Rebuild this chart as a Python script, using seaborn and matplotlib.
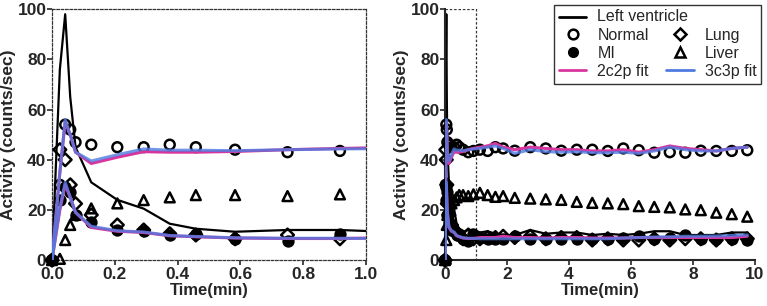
import matplotlib
matplotlib.use("Agg")
import matplotlib.pyplot as plt
from matplotlib.lines import Line2D
from matplotlib.patches import Rectangle
import pandas as pd
import seaborn as sns

# frame mid-times (min)
time_min = [0, 0.025, 0.042, 0.058, 0.075, 0.125, 0.208, 0.292, 0.375, 0.458, 0.583, 0.75, 0.917,
            1.125, 1.375, 1.625, 1.875, 2.25, 2.75, 3.25, 3.75, 4.25, 4.75, 5.25, 5.75, 6.25,
            6.75, 7.25, 7.75, 8.25, 8.75, 9.25, 9.75]

left_ventricle = [0, 76, 98, 65, 45, 31, 24, 20.5, 14.5, 12.5, 11.3, 12, 12, 11, 11.5, 10.5, 10,
                  10, 12, 10.5, 11, 11, 10, 10.5, 10, 10.5, 11.5, 11.5, 10, 10, 10, 11, 11]
normal = [0, 30, 54, 52, 47, 46, 45, 45, 46, 45, 44, 43, 43.5, 44, 43.5, 45, 44.5, 43.6, 45, 44.5,
          43.6, 44, 44, 43.5, 44.5, 43.8, 42.8, 43, 42.8, 43.6, 43.5, 43.5, 43.8]
mi = [0, 24, 29, 27, 18, 15, 12, 11.5, 10, 10.5, 8.5, 7.5, 10.5, 9, 8.5, 8.5, 8.5, 9.5, 8.5, 8.5,
      8.5, 8.5, 8.5, 8.5, 9, 9.5, 8.5, 9, 10, 8.5, 8.5, 8.5, 8]
lung = [0, 44, 40, 30, 22.5, 18, 14, 12, 10.5, 10, 8.5, 10, 8.5, 8.5, 9, 9, 9.5, 9, 9.5, 8.5, 9, 9,
        8, 8.5, 8, 8, 8.5, 8, 8.5, 8.5, 8, 8.5, 8.5]
liver = [0, 0.5, 8, 14, 18, 20.6, 22.6, 23.9, 25, 25.9, 25.9, 25.5, 26.2, 26.8, 25.9, 25.2, 25.5,
         24.8, 24.5, 24.2, 24, 23.2, 22.8, 22.6, 22.3, 21.5, 21.2, 21, 20.2, 19.9, 18.9, 18.3, 17.3]

fit2_normal = [0, 35, 55, 50, 43, 38.5, 41, 43.2, 43, 43, 43.3, 44, 44.5, 45, 45.5, 46.5, 45, 44, 45,
               44.5, 44, 44, 43.5, 43.5, 44, 43, 44, 45.5, 44.5, 44, 43.5, 44.5, 45]
fit3_normal = [0, 35, 56, 50, 43, 39.5, 42, 44.3, 43.8, 43.8, 43.6, 44, 44.3, 44.5, 45, 45.5, 44.5,
               42.5, 44, 43.2, 43, 43.2, 42.8, 42.8, 43, 42.5, 43.5, 45, 44, 43.5, 43.5, 44.5, 45]
fit2_mi = [0, 20, 30, 25, 19, 13, 11.5, 11, 9.7, 9.3, 8.8, 8.6, 8.6, 9, 9, 9, 9.5, 9, 9, 8.8, 9, 9,
           8.8, 8.8, 8.8, 9, 9, 9, 9, 9, 9, 9, 9.5]
fit3_mi = [0, 21, 31, 25, 19, 13.5, 11.7, 11.2, 9.8, 9.4, 8.9, 8.7, 8.7, 8.5, 8.5, 8.5, 8.5, 8.5,
           8.5, 8.5, 8.5, 8.5, 8.5, 8.5, 8.8, 9, 9.2, 9.3, 9.5, 9.5, 9.6, 9.8, 10]

MAGENTA = "#d9359f"
BLUE = "#4f7be0"
DASH = (0, (2, 1.5))

df = pd.DataFrame({"t": time_min, "lv": left_ventricle, "normal": normal, "mi": mi, "lung": lung,
                   "liver": liver, "f2n": fit2_normal, "f3n": fit3_normal, "f2m": fit2_mi, "f3m": fit3_mi})

sns.set_style("ticks")
plt.rcParams["font.family"] = ["Liberation Sans", "DejaVu Sans"]

fig = plt.figure(figsize=(7.67, 3.06), dpi=100)
ax_l = fig.add_axes([0.0678, 0.150, 0.4094, 0.820])
ax_r = fig.add_axes([0.5802, 0.150, 0.4042, 0.820])


def draw(ax, data, marker_data):
    sns.lineplot(data=data, x="t", y="lv", ax=ax, color="black", lw=1.6, sort=False, estimator=None)
    mk = dict(s=50, linewidth=1.8, clip_on=False, zorder=3, legend=False)
    sns.scatterplot(data=marker_data, x="t", y="normal", ax=ax, marker="o", facecolors="none", edgecolor="black", **mk)
    sns.scatterplot(data=marker_data, x="t", y="mi", ax=ax, marker="o", color="black", edgecolor="black", **mk)
    sns.scatterplot(data=marker_data, x="t", y="lung", ax=ax, marker="D", facecolors="none", edgecolor="black",
                    **{**mk, "s": 42})
    sns.scatterplot(data=marker_data, x="t", y="liver", ax=ax, marker="^", facecolors="none", edgecolor="black", **mk)
    for col, c, a in [("f2n", MAGENTA, 1), ("f2m", MAGENTA, 1), ("f3n", BLUE, 0.8), ("f3m", BLUE, 0.8)]:
        sns.lineplot(data=data, x="t", y=col, ax=ax, color=c, alpha=a, lw=2.2, sort=False, estimator=None, zorder=4)
    ax.set_ylim(0, 100)
    ax.set_yticks(range(0, 101, 20))
    ax.set_xlabel("Time(min)", fontsize=12, fontweight="bold", labelpad=1)
    ax.set_ylabel("Activity (counts/sec)", fontsize=12.5, fontweight="bold", labelpad=1)
    ax.tick_params(labelsize=12.5, width=1.2, length=3.5)
    ax.tick_params(axis="y", pad=0.5)
    ax.tick_params(axis="x", pad=1.5)
    for lab in ax.get_yticklabels():
        lab.set_fontweight("bold")


# left: zoom on first minute
draw(ax_l, df[df.t <= 1.2], df[df.t <= 1.0])
ax_l.set_xlim(0, 1.0)
ax_l.set_xticks([0, 0.2, 0.4, 0.6, 0.8, 1.0])
ax_l.set_xticklabels(["0.0", "0.2", "0.4", "0.6", "0.8", "1.0"], fontweight="bold")
for sp in ax_l.spines.values():
    sp.set_visible(True)
    sp.set_linestyle(DASH)
    sp.set_linewidth(0.9)
    sp.set_color("#333333")

# right: full 10 minutes
draw(ax_r, df, df)
ax_r.set_xlim(0, 10)
ax_r.set_xticks(range(0, 11, 2))
ax_r.set_xticklabels([str(v) for v in range(0, 11, 2)], fontweight="bold")
sns.despine(ax=ax_r)
ax_r.spines["left"].set_linewidth(1.5)
ax_r.spines["bottom"].set_linewidth(1.5)
ax_r.add_patch(Rectangle((0, 0), 1, 100, fill=False, ls=DASH, lw=0.9, ec="#333333", zorder=2))

# legend: blank top row, "Left ventricle" is laid over it so it can span both columns
blank = Line2D([], [], ls="none")
handles = [
    blank,
    Line2D([], [], ls="none", marker="o", mfc="none", mec="black", mew=1.8, ms=7),
    Line2D([], [], ls="none", marker="o", mfc="black", mec="black", ms=7),
    Line2D([], [], color=MAGENTA, lw=2),
    blank,
    Line2D([], [], ls="none", marker="D", mfc="none", mec="black", mew=1.8, ms=6.5),
    Line2D([], [], ls="none", marker="^", mfc="none", mec="black", mew=1.8, ms=7),
    Line2D([], [], color=BLUE, lw=2),
]
labels = [" ", "Normal", "MI", "2c2p fit", " ", "Lung", "Liver", "3c3p fit"]
leg = ax_r.legend(handles, labels, ncol=2, loc="upper right", bbox_to_anchor=(1.02, 1.018),
                  fontsize=11.5, frameon=True, fancybox=False, edgecolor="black",
                  handlelength=1.7, handletextpad=0.7, columnspacing=1.1, labelspacing=0.2,
                  borderpad=0.3, borderaxespad=0.0)
leg.get_frame().set_linewidth(1.0)

fig.canvas.draw()
inv = fig.transFigure.inverted()
texts = leg.get_texts()
b_norm = texts[1].get_window_extent()
b_mi = texts[2].get_window_extent()
b_fit = leg.legend_handles[3].get_window_extent()
row = b_norm.y0 - b_mi.y0
y_lv = (b_norm.y0 + b_norm.y1) / 2 + row
x0, y0 = inv.transform((b_fit.x0, y_lv))
x1, _ = inv.transform((b_fit.x1, y_lv))
xt, _ = inv.transform((b_norm.x0, y_lv))
fig.add_artist(Line2D([x0, x1], [y0, y0], color="black", lw=2, transform=fig.transFigure))
fig.text(xt, y0, "Left ventricle", fontsize=11.5, va="center", ha="left")

fig.savefig("out.png", dpi=100)
